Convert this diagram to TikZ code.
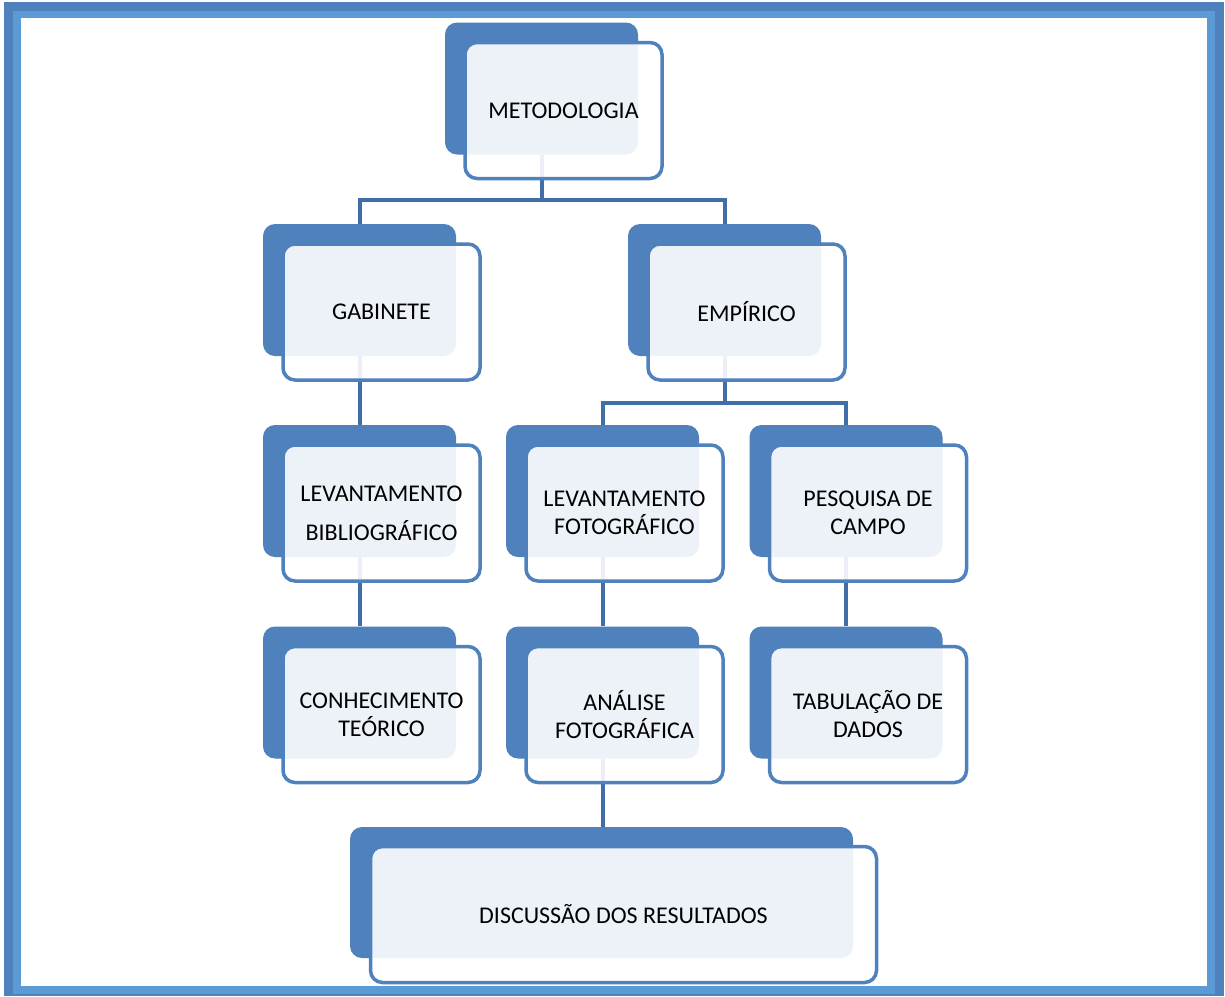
\documentclass[tikz,border=0pt]{standalone}
\usepackage{fontspec}
\setmainfont{Carlito}
\usepackage{xcolor}
\definecolor{cardblue}{RGB}{79,129,189}
\definecolor{linkblue}{RGB}{64,110,166}
\definecolor{framedark}{RGB}{79,129,189}
\definecolor{framelight}{RGB}{91,155,213}

\begin{document}
\begin{tikzpicture}[x=1pt, y=-1pt,
    back/.style={fill=cardblue, rounded corners=12pt, minimum width=193pt, minimum height=132pt, inner sep=0pt},
    front/.style={draw=cardblue, line width=3.5pt, fill=white, fill opacity=0.9, text opacity=1, rounded corners=12pt, minimum width=197pt, minimum height=136pt, inner sep=0pt, align=center, font=\fontsize{24}{28}\selectfont, xshift=22pt, yshift=-22pt},
    link/.style={draw=linkblue, line width=4pt}]
      \useasboundingbox (0,0) rectangle (1225,996);
      % frame
      \fill[framedark] (4,2) rectangle (1224,996);
      \fill[framelight] (13,11) rectangle (1215,994);
      \fill[white] (21,18) rectangle (1207,986);

      % back cards
      \node[back] (metodologia-bg) at (541.5,88.5) {};
      \node[back] (gabinete-bg) at (359.5,290) {};
      \node[back] (empirico-bg) at (724.5,290) {};
      \node[back] (levbib-bg) at (359.5,491) {};
      \node[back] (levfoto-bg) at (602.5,491) {};
      \node[back] (pesquisa-bg) at (846,491) {};
      \node[back] (conhecimento-bg) at (359.5,692.5) {};
      \node[back] (analise-bg) at (602.5,692.5) {};
      \node[back] (tabulacao-bg) at (846,692.5) {};
      \node[back, minimum width=503pt, minimum height=131pt] (discussao-bg) at (601.5,892.5) {};

      % connectors
      \draw[link] (metodologia-bg.south) -- ++(0,45) -| (gabinete-bg.north);
      \draw[link] (metodologia-bg.south) -- ++(0,45) -| (empirico-bg.north);
      \draw[link] (empirico-bg.south) -- ++(0,47) -| (levfoto-bg.north);
      \draw[link] (empirico-bg.south) -- ++(0,47) -| (pesquisa-bg.north);
      \draw[link] (gabinete-bg) -- (levbib-bg);
      \draw[link] (levbib-bg) -- (conhecimento-bg);
      \draw[link] (levfoto-bg) -- (analise-bg);
      \draw[link] (pesquisa-bg) -- (tabulacao-bg);
      \draw[link] (analise-bg.south) -- (analise-bg.south |- discussao-bg.north);

      % front cards
      \node[front] (metodologia) at (metodologia-bg) {METODOLOGIA};
      \node[front] (gabinete) at (gabinete-bg) {GABINETE};
      \node[front] (empirico) at (empirico-bg) {EMPÍRICO};
      \node[front] (levbib) at (levbib-bg) {LEVANTAMENTO\\[11pt]BIBLIOGRÁFICO};
      \node[front] (levfoto) at (levfoto-bg) {LEVANTAMENTO\\FOTOGRÁFICO};
      \node[front] (pesquisa) at (pesquisa-bg) {PESQUISA DE\\CAMPO};
      \node[front] (conhecimento) at (conhecimento-bg) {CONHECIMENTO\\TEÓRICO};
      \node[front] (analise) at (analise-bg) {ANÁLISE\\FOTOGRÁFICA};
      \node[front] (tabulacao) at (tabulacao-bg) {TABULAÇÃO DE\\DADOS};
      \node[front, minimum width=506pt] (discussao) at (discussao-bg) {DISCUSSÃO DOS RESULTADOS};
    \end{tikzpicture}
\end{document}
